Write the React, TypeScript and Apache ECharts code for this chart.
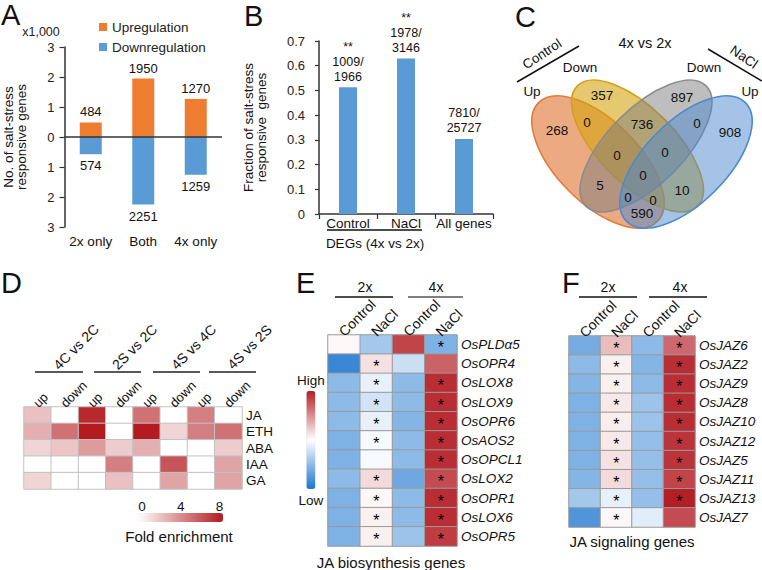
import React, { useEffect, useRef } from 'react';
import * as echarts from 'echarts';

const FONT = '"Liberation Sans", Arial, Helvetica, sans-serif';

// ---------- Panel A ----------
const aCategories = ['2x only', 'Both', '4x only'];
const aUp = [484, 1950, 1270];
const aDown = [574, 2251, 1259];
const aLegend = ['Upregulation', 'Downregulation'];

// ---------- Panel B ----------
const bCategories = ['Control', 'NaCl', 'All genes'];
const bHits = [1009, 1978, 7810];
const bTotals = [1966, 3146, 25727];
const bSignif = ['**', '**', ''];

// ---------- Panel C (Venn) ----------
const vennSets = ['Control Up', 'Control Down', 'NaCl Down', 'NaCl Up'];
const vennCounts = [357, 897, 268, 0, 736, 0, 908, 0, 0, 0, 5, 10, 0, 0, 590];

// ---------- Panel D ----------
const dGroups = ['4C vs 2C', '2S vs 2C', '4S vs 4C', '4S vs 2S'];
const dColumns = ['up', 'down', 'up', 'down', 'up', 'down', 'up', 'down'];
const dHormones = ['JA', 'ETH', 'ABA', 'IAA', 'GA'];
const dEnrichment = [
  [2.2, 0, 7.5, 0, 5.0, 0, 4.5, 0],
  [2.8, 5.0, 8.2, 0, 8.2, 1.5, 4.5, 5.0],
  [1.5, 2.0, 3.5, 1.8, 2.8, 0, 0, 1.8],
  [0, 0, 0, 4.5, 0, 6.0, 0, 3.2],
  [1.5, 0, 0, 2.2, 0, 3.2, 0, 3.2],
];
const dScaleTicks = [0, 4, 8];

// ---------- Panel E ----------
const conditions = ['Control', 'NaCl', 'Control', 'NaCl'];
const ploidy = ['2x', '4x'];
const eGenes = ['OsPLDα5', 'OsOPR4', 'OsLOX8', 'OsLOX9', 'OsOPR6', 'OsAOS2', 'OsOPCL1', 'OsLOX2', 'OsOPR1', 'OsLOX6', 'OsOPR5'];
const eExpr = [
  [0.05, -0.6, 1.25, -0.85],
  [-1.3, 0.2, -0.35, 1.05],
  [-0.75, -0.15, -0.75, 1.4],
  [-0.75, -0.3, -0.75, 1.4],
  [-0.75, -0.15, -0.8, 1.4],
  [-0.85, -0.05, -0.75, 1.4],
  [-0.85, -0.05, -0.75, 1.4],
  [-0.75, 0.25, -0.95, 1.2],
  [-0.85, 0.05, -0.75, 1.4],
  [-0.85, 0.1, -0.75, 1.4],
  [-0.85, 0.1, -0.65, 1.3],
];
const eStars = [
  [0, 0, 0, 1],
  [0, 1, 0, 0],
  [0, 1, 0, 1],
  [0, 1, 0, 1],
  [0, 1, 0, 1],
  [0, 1, 0, 1],
  [0, 0, 0, 1],
  [0, 1, 0, 1],
  [0, 1, 0, 1],
  [0, 1, 0, 1],
  [0, 1, 0, 1],
];

// ---------- Panel F ----------
const fGenes = ['OsJAZ6', 'OsJAZ2', 'OsJAZ9', 'OsJAZ8', 'OsJAZ10', 'OsJAZ12', 'OsJAZ5', 'OsJAZ11', 'OsJAZ13', 'OsJAZ7'];
const fExpr = [
  [-0.9, 0.45, -0.75, 1.0],
  [-0.75, 0.1, -0.8, 1.4],
  [-0.8, 0.1, -0.75, 1.4],
  [-0.85, 0.15, -0.65, 1.4],
  [-0.85, 0.12, -0.65, 1.4],
  [-0.85, 0.15, -0.7, 1.35],
  [-0.85, 0.2, -0.7, 1.35],
  [-0.8, 0.25, -0.7, 1.25],
  [-0.6, -0.15, -0.7, 1.5],
  [-1.15, 0.05, -0.2, 1.2],
];
const fStars = [
  [0, 1, 0, 1],
  [0, 1, 0, 1],
  [0, 1, 0, 1],
  [0, 1, 0, 1],
  [0, 1, 0, 1],
  [0, 1, 0, 1],
  [0, 1, 0, 1],
  [0, 1, 0, 1],
  [0, 1, 0, 1],
  [0, 1, 0, 0],
];

// ---------- layout (positions / styles) ----------
const ORANGE = '#ED7D31';
const BLUE = '#5B9BD5';
const vennLayout = [
  { x: 598, y: 162, rot: -Math.PI / 4, rx: 84, ry: 41, fill: 'rgba(218,100,27,0.55)', stroke: '#E07B39' },
  { x: 637.5, y: 146, rot: -Math.PI / 4, rx: 85, ry: 38, fill: 'rgba(213,163,13,0.6)', stroke: '#D4A017' },
  { x: 646, y: 146, rot: Math.PI / 4, rx: 85, ry: 38, fill: 'rgba(125,125,125,0.5)', stroke: '#8C8C8C' },
  { x: 686, y: 162, rot: Math.PI / 4, rx: 84, ry: 41, fill: 'rgba(75,135,205,0.5)', stroke: '#4A8AD0' },
];
const vennCountPos = [
  [602, 95], [682, 97], [557, 130], [587, 122], [642, 124], [697, 123], [730, 132],
  [617, 155], [665, 152], [643, 175], [600, 185], [682, 190], [628, 197], [653, 200], [642, 213],
];
const dGroupLines = [[35, 83], [94, 141], [153, 200], [209, 256]];

function heatData(matrix: number[][], stars?: number[][]) {
  const out: any[] = [];
  matrix.forEach((row, r) =>
    row.forEach((v, c) => {
      out.push({ value: [c, r, v], label: { show: !!(stars && stars[r][c]) } });
    })
  );
  return out;
}

function txt(text: string, x: number, y: number, fontSize: number, extra: any = {}) {
  const { rotation, align, verticalAlign, fill, fontStyle, fontWeight } = extra;
  return {
    type: 'text',
    x,
    y,
    rotation: rotation || 0,
    silent: true,
    style: {
      text,
      fontSize,
      fontFamily: FONT,
      fontStyle: fontStyle || 'normal',
      fontWeight: fontWeight || 'normal',
      fill: fill || '#111',
      align: align || 'center',
      verticalAlign: verticalAlign || 'middle',
    },
  };
}

function line(x1: number, y1: number, x2: number, y2: number, stroke = '#111', lineWidth = 1.5) {
  return { type: 'line', silent: true, shape: { x1, y1, x2, y2 }, style: { stroke, lineWidth } };
}

function buildOption() {
  const graphics: any[] = [];
  // panel letters
  graphics.push(txt('A', 1, 15, 29, { align: 'left' }));
  graphics.push(txt('B', 244, 16, 29, { align: 'left' }));
  graphics.push(txt('C', 515, 17, 29, { align: 'left' }));
  graphics.push(txt('D', 1, 283, 29, { align: 'left' }));
  graphics.push(txt('E', 296, 283, 29, { align: 'left' }));
  graphics.push(txt('F', 562, 283, 29, { align: 'left' }));

  // A: axis unit
  graphics.push(txt('x1,000', 41, 32, 12.5, { fill: '#222' }));

  // B: DEGs group
  graphics.push(line(327, 230, 422, 230, '#111', 1.5));
  graphics.push(txt('DEGs (4x vs 2x)', 375, 243, 13.5, { fill: '#111' }));

  // C: Venn
  vennLayout.forEach((e) => {
    graphics.push({
      type: 'ellipse',
      x: e.x,
      y: e.y,
      rotation: e.rot,
      silent: true,
      shape: { cx: 0, cy: 0, rx: e.rx, ry: e.ry },
      style: { fill: e.fill, stroke: e.stroke, lineWidth: 1.6 },
    });
  });
  vennCounts.forEach((n, i) => {
    graphics.push(txt(String(n), vennCountPos[i][0], vennCountPos[i][1], 13.5, { fill: '#111' }));
  });
  graphics.push(txt('4x vs 2x', 645, 43, 14.5));
  graphics.push(line(517, 82, 579, 46));
  graphics.push(txt('Control', 542, 54, 13.5, { rotation: 0.58 }));
  graphics.push(txt('Down', 580, 67, 13.5));
  graphics.push(txt('Up', 532, 91, 13.5));
  graphics.push(line(708, 49, 762, 81));
  graphics.push(txt('NaCl', 744, 57, 13.5, { rotation: -0.6 }));
  graphics.push(txt('Down', 704, 67, 13.5));
  graphics.push(txt('Up', 750, 91, 13.5));

  // D: group headers
  dGroups.forEach((g, i) => {
    const [x1, x2] = dGroupLines[i];
    graphics.push(line(x1, 372, x2, 372, '#5a5a5a', 2.2));
    graphics.push(txt(g, (x1 + x2) / 2 + 17, 347, 14, { rotation: Math.PI / 4 }));
  });
  dScaleTicks.forEach((t) => {
    graphics.push(txt(String(t), 142 + (t / 8) * 77.5, 506, 13.5, { fill: '#111' }));
  });
  graphics.push(txt('Fold enrichment', 179, 536, 15));

  // E headers
  graphics.push(txt(ploidy[0], 365, 287, 14));
  graphics.push(line(335, 297, 393, 297, '#111', 1.5));
  graphics.push(txt(ploidy[1], 436, 287, 14));
  graphics.push(line(408, 297, 463, 297, '#555', 1.5));
  graphics.push(txt('JA biosynthesis genes', 391, 562, 15));

  // F headers
  graphics.push(txt(ploidy[0], 608, 287, 14));
  graphics.push(line(579, 297, 637, 297, '#111', 1.5));
  graphics.push(txt(ploidy[1], 680, 287, 14));
  graphics.push(line(649, 297, 707, 297, '#111', 1.5));
  graphics.push(txt('JA signaling genes', 632, 541, 15));

  const heatXAxis = (idx: number, data: string[], fontSize: number, shift: number) => ({
    type: 'category',
    gridIndex: idx,
    position: 'top',
    z: 10,
    data,
    axisLine: { show: false },
    axisTick: { show: false },
    splitLine: { show: false },
    axisLabel: {
      rotate: -45,
      interval: 0,
      margin: 4,
      padding: [0, 0, 0, -shift],
      fontSize,
      color: '#111',
      fontFamily: FONT,
    },
  });
  const heatYAxis = (idx: number, data: string[], italic: boolean, margin: number) => ({
    type: 'category',
    gridIndex: idx,
    position: 'right',
    inverse: true,
    data,
    axisLine: { show: false },
    axisTick: { show: false },
    splitLine: { show: false },
    axisLabel: {
      interval: 0,
      margin,
      fontSize: 13.5,
      color: '#111',
      fontStyle: italic ? 'italic' : 'normal',
      fontFamily: FONT,
    },
  });

  const starLabel = { show: false, formatter: '*', fontSize: 16, color: '#000', offset: [0, 3], fontFamily: FONT };

  return {
    animation: false,
    backgroundColor: '#ffffff',
    textStyle: { fontFamily: FONT },
    legend: {
      data: aLegend,
      orient: 'vertical',
      left: 99,
      top: 20,
      padding: 0,
      itemWidth: 8,
      itemHeight: 8,
      itemGap: 6,
      icon: 'rect',
      selectedMode: false,
      textStyle: { fontSize: 13.5, color: '#222', fontFamily: FONT },
    },
    grid: [
      { left: 59, top: 47, width: 163, height: 180 },
      { left: 319, top: 41, width: 174, height: 173 },
      { left: 24, top: 407, width: 218, height: 82 },
      { left: 328, top: 335, width: 129, height: 211 },
      { left: 569, top: 336, width: 126, height: 191 },
    ],
    xAxis: [
      {
        type: 'category',
        gridIndex: 0,
        data: aCategories,
        axisLine: { show: false },
        axisTick: { show: false },
        axisLabel: { margin: 7, fontSize: 13.5, color: '#111', interval: 0 },
      },
      {
        type: 'category',
        gridIndex: 1,
        data: bCategories,
        axisLine: { lineStyle: { color: '#333', width: 1.5 } },
        axisTick: { show: true, length: 5, lineStyle: { color: '#333', width: 1.2 } },
        axisLabel: { margin: 2, fontSize: 13.5, color: '#111', interval: 0 },
      },
      heatXAxis(2, dColumns, 13, 3),
      heatXAxis(3, conditions, 14, 4),
      heatXAxis(4, conditions, 14, 4),
    ],
    yAxis: [
      {
        type: 'value',
        gridIndex: 0,
        min: -3000,
        max: 3000,
        interval: 1000,
        splitLine: { show: false },
        axisLine: { show: true, lineStyle: { color: '#333', width: 1.5 } },
        axisTick: { show: true, length: 5, lineStyle: { color: '#333', width: 1.2 } },
        axisLabel: {
          margin: 10,
          fontSize: 13,
          color: '#222',
          formatter: (v: number) => String(Math.abs(v / 1000)),
        },
        name: 'No. of salt-stress\nresponsive genes',
        nameLocation: 'middle',
        nameRotate: 90,
        nameGap: 37,
        nameTextStyle: { fontSize: 13.5, lineHeight: 13, color: '#111' },
      },
      {
        type: 'value',
        gridIndex: 1,
        min: 0,
        max: 0.7,
        interval: 0.1,
        splitLine: { show: false },
        axisLine: { show: true, lineStyle: { color: '#333', width: 1.5 } },
        axisTick: { show: true, length: 4, lineStyle: { color: '#333', width: 1.2 } },
        axisLabel: {
          margin: 14,
          fontSize: 13,
          color: '#222',
          formatter: (v: number) => (v === 0 ? '0' : v.toFixed(1)),
        },
        name: 'Fraction of salt-stress\nresponsive  genes',
        nameLocation: 'middle',
        nameRotate: 90,
        nameGap: 51,
        nameTextStyle: { fontSize: 13.5, lineHeight: 13, color: '#111' },
      },
      heatYAxis(2, dHormones, false, 4),
      heatYAxis(3, eGenes, true, 4),
      heatYAxis(4, fGenes, true, 4),
    ],
    visualMap: [
      {
        type: 'continuous',
        seriesIndex: 3,
        min: 0,
        max: 8,
        orient: 'horizontal',
        left: 138,
        top: 513,
        padding: 0,
        itemWidth: 9,
        itemHeight: 85,
        calculable: false,
        hoverLink: false,
        text: null,
        inRange: { color: ['#FFFFFF', '#B31B20'] },
      },
      {
        type: 'continuous',
        seriesIndex: [4, 5],
        min: -1.5,
        max: 1.5,
        orient: 'vertical',
        left: 297,
        top: 373,
        padding: 0,
        itemWidth: 9,
        itemHeight: 98,
        textGap: 4,
        calculable: false,
        hoverLink: false,
        text: ['High', 'Low'],
        textStyle: { fontSize: 13.5, color: '#111', fontFamily: FONT },
        inRange: { color: ['#1B75CF', '#FFFFFF', '#B41E25'] },
      },
    ],
    series: [
      {
        name: aLegend[0],
        type: 'bar',
        xAxisIndex: 0,
        yAxisIndex: 0,
        data: aUp,
        barWidth: 22,
        barGap: '-100%',
        itemStyle: { color: ORANGE },
        label: { show: true, position: 'top', distance: 4, fontSize: 13, color: '#111' },
        markLine: {
          silent: true,
          symbol: ['none', 'none'],
          label: { show: false },
          lineStyle: { color: '#333', width: 1.5, type: 'solid' },
          data: [{ yAxis: 0 }],
        },
      },
      {
        name: aLegend[1],
        type: 'bar',
        xAxisIndex: 0,
        yAxisIndex: 0,
        data: aDown.map((v) => -v),
        barWidth: 22,
        barGap: '-100%',
        itemStyle: { color: BLUE },
        label: {
          show: true,
          position: 'bottom',
          distance: 5,
          fontSize: 13,
          color: '#111',
          formatter: (p: any) => String(Math.abs(p.value)),
        },
      },
      {
        name: 'Fraction',
        type: 'bar',
        xAxisIndex: 1,
        yAxisIndex: 1,
        data: bHits.map((h, i) => h / bTotals[i]),
        barWidth: 18,
        itemStyle: { color: BLUE },
        label: {
          show: true,
          position: 'top',
          distance: 3,
          fontSize: 12.5,
          lineHeight: 15,
          color: '#111',
          formatter: (p: any) => {
            const i = p.dataIndex;
            const s = bSignif[i] ? bSignif[i] + '\n' : '';
            return `${s}${bHits[i]}/\n${bTotals[i]}`;
          },
        },
      },
      {
        name: 'Hormone enrichment',
        type: 'heatmap',
        xAxisIndex: 2,
        yAxisIndex: 2,
        data: heatData(dEnrichment),
        silent: true,
        emphasis: { disabled: true },
        itemStyle: { borderColor: '#c2c2c2', borderWidth: 1 },
      },
      {
        name: 'JA biosynthesis',
        type: 'heatmap',
        xAxisIndex: 3,
        yAxisIndex: 3,
        data: heatData(eExpr, eStars),
        silent: true,
        emphasis: { disabled: true },
        label: starLabel,
        itemStyle: { borderColor: '#9a9a9a', borderWidth: 1 },
      },
      {
        name: 'JA signaling',
        type: 'heatmap',
        xAxisIndex: 4,
        yAxisIndex: 4,
        data: heatData(fExpr, fStars),
        silent: true,
        emphasis: { disabled: true },
        label: starLabel,
        itemStyle: { borderColor: '#9a9a9a', borderWidth: 1 },
      },
    ],
    graphic: { elements: graphics },
  };
}

export default function App() {
  const ref = useRef<HTMLDivElement>(null);
  useEffect(() => {
    document.body.style.margin = '0';
    if (!ref.current) return;
    const chart = echarts.init(ref.current, null, { renderer: 'svg' });
    chart.setOption(buildOption() as any);
    return () => chart.dispose();
  }, []);
  return (
    <div
      ref={ref}
      style={{ position: 'absolute', left: 0, top: 0, width: 762, height: 570, background: '#fff' }}
    />
  );
}
